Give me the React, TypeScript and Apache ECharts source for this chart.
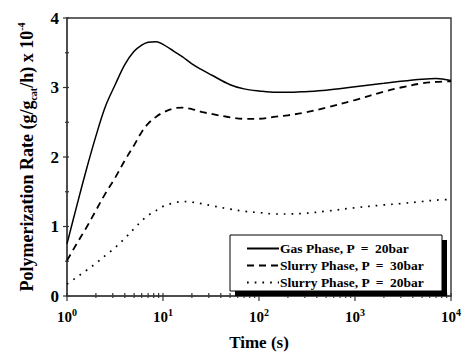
import React, { useEffect, useRef } from "react";
import * as echarts from "echarts";

const times = [1, 1.26, 1.6, 2, 2.5, 3.2, 4, 5, 6, 7, 8.5, 10, 13, 16, 20, 25, 32, 50, 70, 100, 150, 200, 300, 500, 1000, 2000, 3000, 5000, 7000, 10000];
const gas20 = [0.75, 1.29, 1.83, 2.3, 2.72, 3.05, 3.33, 3.52, 3.61, 3.65, 3.66, 3.62, 3.52, 3.44, 3.34, 3.26, 3.18, 3.04, 2.98, 2.95, 2.93, 2.93, 2.94, 2.96, 3.01, 3.06, 3.09, 3.12, 3.13, 3.1];
const slurry30 = [0.51, 0.75, 0.99, 1.23, 1.47, 1.71, 1.95, 2.17, 2.36, 2.48, 2.58, 2.64, 2.7, 2.71, 2.69, 2.65, 2.62, 2.57, 2.55, 2.55, 2.58, 2.6, 2.64, 2.71, 2.82, 2.94, 3.0, 3.06, 3.08, 3.09];
const slurry20 = [0.17, 0.27, 0.37, 0.47, 0.58, 0.7, 0.83, 0.97, 1.08, 1.16, 1.23, 1.29, 1.34, 1.36, 1.35, 1.33, 1.3, 1.25, 1.22, 1.2, 1.18, 1.18, 1.19, 1.22, 1.27, 1.31, 1.33, 1.36, 1.38, 1.39];

const seriesNames = ["Gas Phase, P  =  20bar", "Slurry Phase, P  =  30bar", "Slurry Phase, P  =  20bar"];
const xMajorTicks = [1, 10, 100, 1000, 10000];
const xMinorFactors = [2, 3, 4, 5, 6, 7, 8, 9];
const yTicks = [0, 0.5, 1, 1.5, 2, 2.5, 3, 3.5, 4];

const FONT = '"Liberation Serif", "Times New Roman", serif';

const pair = (vals: number[]) => times.map((t, i) => [t, vals[i]]);

export default function App() {
  const ref = useRef<HTMLDivElement>(null);

  useEffect(() => {
    if (!ref.current) return;
    const chart = echarts.init(ref.current, null, { renderer: "svg" });

    const xTickData: number[][] = [];
    xMajorTicks.forEach((m, i) => {
      xTickData.push([m, 0, 1]);
      if (i < xMajorTicks.length - 1) xMinorFactors.forEach((f) => xTickData.push([m * f, 0, 0]));
    });
    const yTickData = yTicks.map((v) => [1, v, Number.isInteger(v) ? 1 : 0]);

    chart.setOption({
      animation: false,
      backgroundColor: "#fff",
      grid: { left: 67, right: 11, top: 18, bottom: 55, show: true, borderColor: "#333", borderWidth: 1.4 },
      legend: {
        data: seriesNames,
        orient: "vertical",
        left: 246,
        top: 241,
        itemWidth: 32,
        itemHeight: 12,
        itemGap: 2,
        padding: 0,
        z: 10,
        itemStyle: { color: "rgba(0,0,0,0)", borderColor: "rgba(0,0,0,0)", borderWidth: 0 },
        textStyle: { fontFamily: FONT, fontWeight: "bold", fontSize: 13.5, lineHeight: 15, color: "#000", padding: [0, 0, 0, -4] },
      },
      graphic: [
        { type: "rect", z: 5, shape: { x: 235, y: 240, width: 212, height: 56 }, style: { fill: "#000" } },
        { type: "rect", z: 6, shape: { x: 230, y: 235, width: 212, height: 56 }, style: { fill: "#fff", stroke: "#000", lineWidth: 1 } },
      ],
      xAxis: {
        type: "log",
        logBase: 10,
        min: 1,
        max: 10000,
        name: "Time (s)",
        nameLocation: "middle",
        nameGap: 38,
        nameTextStyle: { fontFamily: FONT, fontWeight: "bold", fontSize: 17, color: "#000" },
        axisLine: { lineStyle: { color: "#444", width: 1.5 } },
        axisTick: { show: false },
        minorTick: { show: false },
        splitLine: { show: false },
        axisLabel: {
          margin: 11,
          formatter: (v: number) => `{b|10}{s|${Math.round(Math.log10(v))}}`,
          rich: {
            b: { fontFamily: FONT, fontWeight: "bold", fontSize: 15, color: "#000", lineHeight: 19 },
            s: { fontFamily: FONT, fontWeight: "bold", fontSize: 10, color: "#000", verticalAlign: "top", lineHeight: 19 },
          },
        },
      },
      yAxis: {
        type: "value",
        min: 0,
        max: 4,
        interval: 1,
        name: "{n|Polymerization Rate (g/g}{sub|cat}{n|/h) x 10}{sup|-4}",
        nameLocation: "middle",
        nameGap: 29,
        nameTextStyle: {
          rich: {
            n: { fontFamily: FONT, fontWeight: "bold", fontSize: 18, color: "#000", lineHeight: 22 },
            sub: { fontFamily: FONT, fontWeight: "bold", fontSize: 10, color: "#000", verticalAlign: "bottom", lineHeight: 22 },
            sup: { fontFamily: FONT, fontWeight: "bold", fontSize: 10, color: "#000", verticalAlign: "top", lineHeight: 22 },
          },
        },
        axisLine: { lineStyle: { color: "#444", width: 1.5 } },
        axisTick: { show: false },
        splitLine: { show: false },
        axisLabel: { margin: 8, fontFamily: FONT, fontWeight: "bold", fontSize: 17, color: "#000" },
      },
      series: [
        {
          name: seriesNames[0],
          type: "line",
          data: pair(gas20),
          smooth: 0.35,
          symbol: "none",
          lineStyle: { color: "#000", width: 1.5 },
          itemStyle: { color: "#000" },
        },
        {
          name: seriesNames[1],
          type: "line",
          data: pair(slurry30),
          smooth: 0.35,
          symbol: "none",
          lineStyle: { color: "#000", width: 1.8, type: [7, 5] },
          itemStyle: { color: "#000" },
        },
        {
          name: seriesNames[2],
          type: "line",
          data: pair(slurry20),
          smooth: 0.35,
          symbol: "none",
          lineStyle: { color: "#000", width: 1.7, type: [1.7, 6] },
          itemStyle: { color: "#000" },
        },
        {
          type: "custom",
          clip: false,
          silent: true,
          data: xTickData,
          renderItem: (_p: any, api: any) => {
            const pt = api.coord([api.value(0), 0]);
            const major = api.value(2) === 1;
            return {
              type: "line",
              shape: { x1: pt[0], y1: pt[1] - 3, x2: pt[0], y2: pt[1] + (major ? 5 : 2) },
              style: { stroke: "#333", lineWidth: 1.2 },
            };
          },
        },
        {
          type: "custom",
          clip: false,
          silent: true,
          data: yTickData,
          renderItem: (_p: any, api: any) => {
            const pt = api.coord([1, api.value(1)]);
            const major = api.value(2) === 1;
            return {
              type: "line",
              shape: { x1: pt[0] - (major ? 4 : 2), y1: pt[1], x2: pt[0] + 2, y2: pt[1] },
              style: { stroke: "#333", lineWidth: 1.2 },
            };
          },
        },
      ],
    });

    return () => chart.dispose();
  }, []);

  return <div ref={ref} style={{ width: 464, height: 356, position: "absolute", left: 0, top: 0 }} />;
}
